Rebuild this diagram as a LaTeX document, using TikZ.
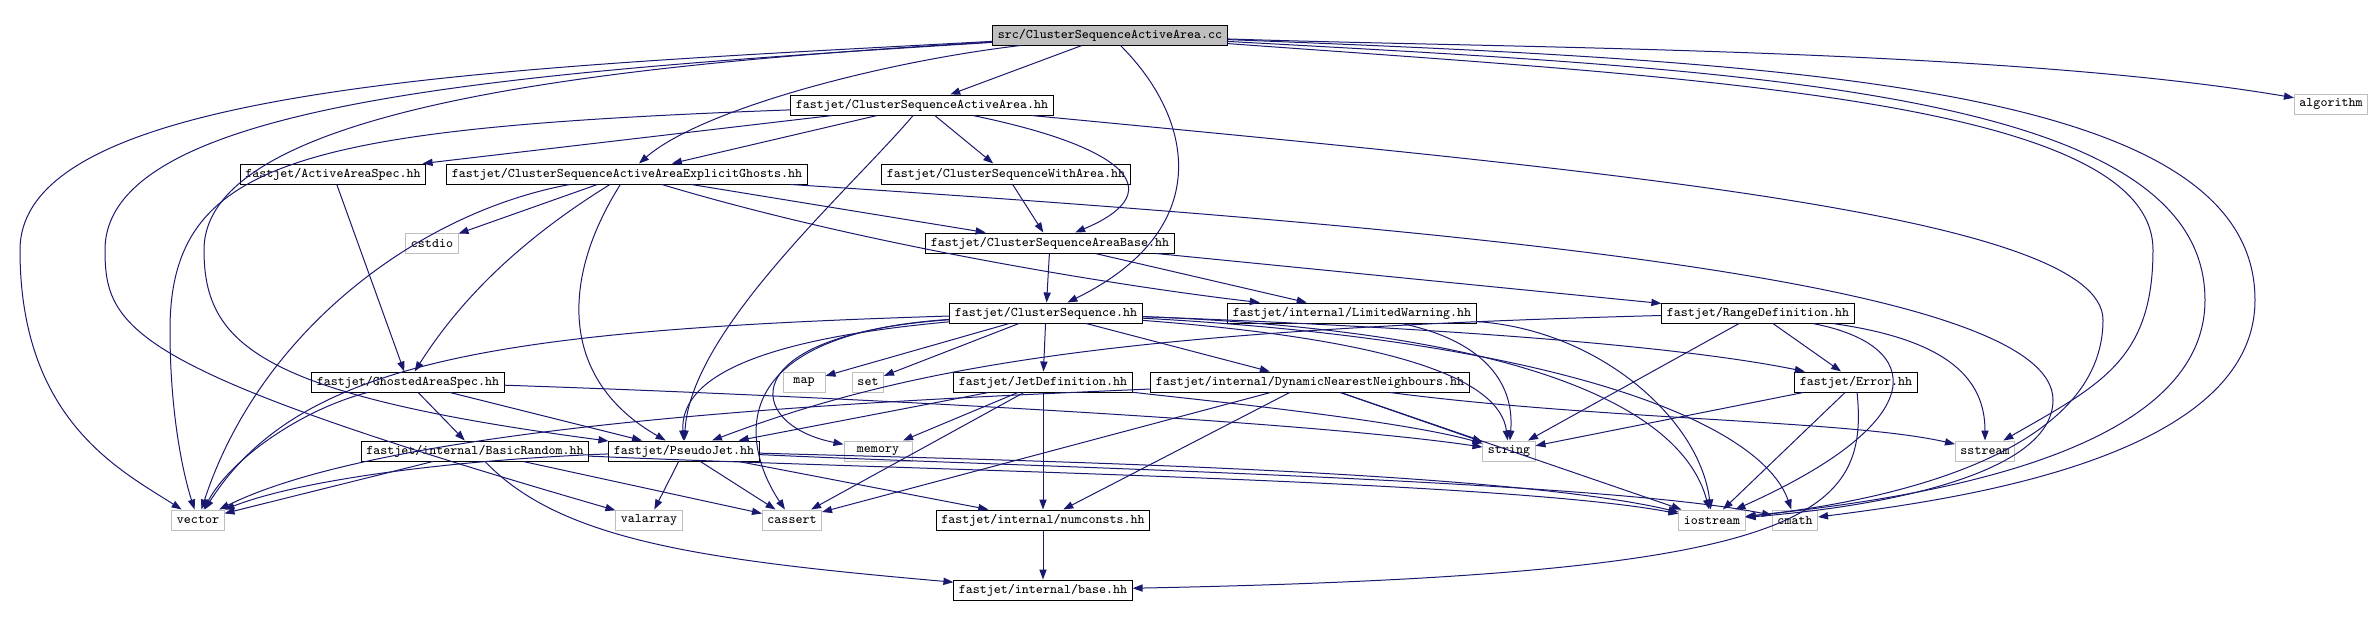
\documentclass[tikz,border=0pt]{standalone}
\usepackage{tikz}
\usetikzlibrary{arrows.meta}
\definecolor{Edge_blue}{RGB}{25, 25, 112}
\definecolor{Sys_gray}{RGB}{191, 191, 191}
\tikzset{
    file/.style={draw=black, line width=0.5pt, minimum height=10pt, inner xsep=2.5pt, inner ysep=0pt,
        font=\fontsize{6.6}{7}\selectfont\ttfamily},
    sysfile/.style={file, draw=Sys_gray},
    srcfile/.style={file, fill=Sys_gray},
    dep/.style={draw=Edge_blue, line width=0.5pt, -{Stealth[inset=0pt, length=5pt, width=3.6pt]}}
}

\begin{document}
\begin{tikzpicture}[x=0.5pt, y=-0.5pt]
    \useasboundingbox (0,0) rectangle (2374,617);

    %% Nodes
    % row 0 and 1
    \node[srcfile] (src) at (1110,35) {src/ClusterSequenceActiveArea.cc};
    \node[file] (csaa) at (922,105) {fastjet/ClusterSequenceActiveArea.hh};
    \node[sysfile] (algorithm) at (2331,104) {algorithm};
    % row 2
    \node[file] (areaspec) at (333,174) {fastjet/ActiveAreaSpec.hh};
    \node[file] (ghosts) at (627,174) {fastjet/ClusterSequenceActiveAreaExplicitGhosts.hh};
    \node[file] (witharea) at (1006,174) {fastjet/ClusterSequenceWithArea.hh};
    % row 3
    \node[sysfile] (cstdio) at (432,243) {cstdio};
    \node[file] (areabase) at (1050,243) {fastjet/ClusterSequenceAreaBase.hh};
    % row 4
    \node[file] (cseq) at (1046,313) {fastjet/ClusterSequence.hh};
    \node[file] (limwarn) at (1352,313) {fastjet/internal/LimitedWarning.hh};
    \node[file] (rangedef) at (1758,313) {fastjet/RangeDefinition.hh};
    % row 5
    \node[file] (ghostspec) at (408,382) {fastjet/GhostedAreaSpec.hh};
    \node[sysfile, minimum width=21pt] (map) at (804,382) {map};
    \node[sysfile] (set) at (868,382) {set};
    \node[file] (jetdef) at (1043,382) {fastjet/JetDefinition.hh};
    \node[file] (dnn) at (1310,382) {fastjet/internal/DynamicNearestNeighbours.hh};
    \node[file] (error) at (1856,382) {fastjet/Error.hh};
    % row 6
    \node[file] (basicrand) at (475,451) {fastjet/internal/BasicRandom.hh};
    \node[file] (pseudojet) at (684,451) {fastjet/PseudoJet.hh};
    \node[sysfile, minimum width=34pt] (memory) at (878,451) {memory};
    \node[sysfile] (string) at (1509,451) {string};
    \node[sysfile] (sstream) at (1985,451) {sstream};
    % row 7
    \node[sysfile] (vector) at (198,520) {vector};
    \node[sysfile] (valarray) at (649,520) {valarray};
    \node[sysfile] (cassert) at (792,520) {cassert};
    \node[file] (numconsts) at (1043,520) {fastjet/internal/numconsts.hh};
    \node[sysfile] (iostream) at (1712,520) {iostream};
    \node[sysfile] (cmath) at (1795,520) {cmath};
    % row 8
    \node[file] (base) at (1043,590) {fastjet/internal/base.hh};

    %% Edges
    % src/ClusterSequenceActiveArea.cc
    \draw[dep] (src) -- (csaa);
    \draw[dep] (src) .. controls (880,62) and (700,110) .. (ghosts);
    \draw[dep] (src) .. controls (1195,120) and (1215,230) .. (cseq);
    \draw[dep] (src) .. controls (500,68) and (20,85) .. (20,250) .. controls (20,420) and (120,470) .. (vector);
    \draw[dep] (src) .. controls (520,72) and (105,100) .. (105,250) .. controls (105,330) and (130,370) .. (valarray);
    \draw[dep] (src) .. controls (620,64) and (204,105) .. (204,250) .. controls (204,345) and (260,395) .. (pseudojet);
    \draw[dep] (src) .. controls (1500,48) and (2000,48) .. (algorithm);
    \draw[dep] (src) .. controls (1700,78) and (2153,100) .. (2153,250) .. controls (2153,360) and (2100,385) .. (sstream);
    \draw[dep] (src) .. controls (1750,70) and (2205,90) .. (2205,300) .. controls (2205,460) and (1900,500) .. (iostream);
    \draw[dep] (src) .. controls (1800,62) and (2255,85) .. (2255,300) .. controls (2255,460) and (1950,500) .. (cmath);

    % fastjet/ClusterSequenceActiveArea.hh
    \draw[dep] (csaa) -- (areaspec);
    \draw[dep] (csaa) -- (ghosts);
    \draw[dep] (csaa) -- (witharea);
    \draw[dep] (csaa) .. controls (1140,150) and (1165,195) .. (areabase);
    \draw[dep] (csaa) .. controls (850,190) and (690,330) .. (pseudojet);
    \draw[dep] (csaa) .. controls (300,128) and (170,160) .. (170,330) .. controls (170,420) and (185,480) .. (vector);
    \draw[dep] (csaa) .. controls (1600,170) and (2103,215) .. (2103,320) .. controls (2103,450) and (1900,500) .. (iostream);

    % fastjet/ActiveAreaSpec.hh
    \draw[dep] (areaspec) -- (ghostspec);

    % fastjet/ClusterSequenceActiveAreaExplicitGhosts.hh
    \draw[dep] (ghosts) -- (cstdio);
    \draw[dep] (ghosts) .. controls (520,240) and (460,300) .. (ghostspec);
    \draw[dep] (ghosts) .. controls (420,212) and (260,330) .. (vector);
    \draw[dep] (ghosts) .. controls (560,280) and (560,380) .. (pseudojet);
    \draw[dep] (ghosts) -- (areabase);
    \draw[dep] (ghosts) .. controls (880,250) and (1150,290) .. (limwarn);
    \draw[dep] (ghosts) .. controls (1500,230) and (2053,285) .. (2053,400) .. controls (2053,470) and (1900,505) .. (iostream);

    % fastjet/ClusterSequenceWithArea.hh
    \draw[dep] (witharea) -- (areabase);

    % fastjet/ClusterSequenceAreaBase.hh
    \draw[dep] (areabase) -- (cseq);
    \draw[dep] (areabase) -- (limwarn);
    \draw[dep] (areabase) -- (rangedef);

    % fastjet/ClusterSequence.hh
    \draw[dep] (cseq) -- (map);
    \draw[dep] (cseq) -- (set);
    \draw[dep] (cseq) -- (jetdef);
    \draw[dep] (cseq) -- (dnn);
    \draw[dep] (cseq) .. controls (750,340) and (680,380) .. (pseudojet);
    \draw[dep] (cseq) .. controls (500,330) and (300,360) .. (vector);
    \draw[dep] (cseq) .. controls (730,335) and (745,425) .. (memory);
    \draw[dep] (cseq) .. controls (715,335) and (745,450) .. (cassert);
    \draw[dep] (cseq) .. controls (1400,340) and (1500,380) .. (string);
    \draw[dep] (cseq) .. controls (1500,330) and (1680,400) .. (iostream);
    \draw[dep] (cseq) .. controls (1550,340) and (1760,420) .. (cmath);
    \draw[dep] (cseq) .. controls (1500,330) and (1700,350) .. (error);

    % fastjet/JetDefinition.hh
    \draw[dep] (jetdef) -- (pseudojet);
    \draw[dep] (jetdef) -- (memory);
    \draw[dep] (jetdef) -- (cassert);
    \draw[dep] (jetdef) -- (numconsts);
    \draw[dep] (jetdef) .. controls (1200,400) and (1400,420) .. (string);

    % fastjet/internal/DynamicNearestNeighbours.hh
    \draw[dep] (dnn) -- (cassert);
    \draw[dep] (dnn) -- (numconsts);
    \draw[dep] (dnn) -- (string);
    \draw[dep] (dnn) -- (iostream);
    \draw[dep] (dnn) .. controls (900,400) and (400,420) .. (vector);
    \draw[dep] (dnn) .. controls (1600,420) and (1850,420) .. (sstream);

    % fastjet/internal/LimitedWarning.hh
    \draw[dep] (limwarn) .. controls (1480,340) and (1515,380) .. (string);
    \draw[dep] (limwarn) .. controls (1600,330) and (1700,420) .. (iostream);

    % fastjet/RangeDefinition.hh
    \draw[dep] (rangedef) .. controls (1100,330) and (900,370) .. (pseudojet);
    \draw[dep] (rangedef) -- (error);
    \draw[dep] (rangedef) -- (string);
    \draw[dep] (rangedef) .. controls (1925,345) and (1935,420) .. (iostream);
    \draw[dep] (rangedef) .. controls (1950,340) and (1985,380) .. (sstream);

    % fastjet/Error.hh
    \draw[dep] (error) -- (string);
    \draw[dep] (error) -- (iostream);
    \draw[dep] (error) .. controls (1870,520) and (1800,575) .. (base);

    % fastjet/GhostedAreaSpec.hh
    \draw[dep] (ghostspec) -- (basicrand);
    \draw[dep] (ghostspec) .. controls (300,410) and (230,460) .. (vector);
    \draw[dep] (ghostspec) -- (pseudojet);
    \draw[dep] (ghostspec) .. controls (800,395) and (1300,420) .. (string);

    % fastjet/internal/BasicRandom.hh
    \draw[dep] (basicrand) -- (vector);
    \draw[dep] (basicrand) -- (cassert);
    \draw[dep] (basicrand) .. controls (900,470) and (1500,480) .. (iostream);
    \draw[dep] (basicrand) .. controls (560,540) and (700,560) .. (base);

    % fastjet/PseudoJet.hh
    \draw[dep] (pseudojet) -- (valarray);
    \draw[dep] (pseudojet) -- (cassert);
    \draw[dep] (pseudojet) .. controls (450,460) and (300,480) .. (vector);
    \draw[dep] (pseudojet) -- (numconsts);
    \draw[dep] (pseudojet) .. controls (1000,460) and (1500,470) .. (iostream);
    \draw[dep] (pseudojet) .. controls (1000,466) and (1600,480) .. (cmath);

    % fastjet/internal/numconsts.hh
    \draw[dep] (numconsts) -- (base);
\end{tikzpicture}
\end{document}
